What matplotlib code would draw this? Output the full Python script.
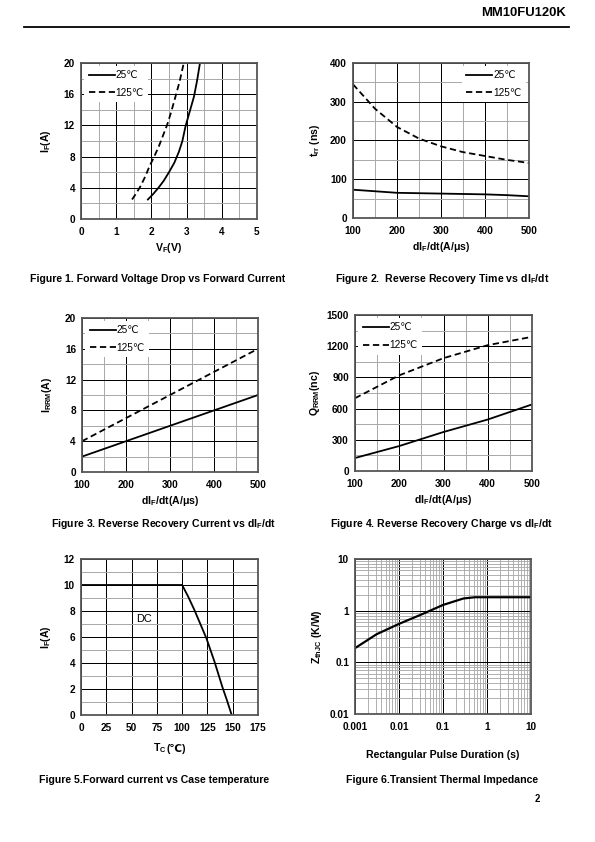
import matplotlib
matplotlib.use("Agg")
import matplotlib.pyplot as plt
from matplotlib.ticker import MultipleLocator, LogLocator, FixedLocator, NullFormatter
from matplotlib.offsetbox import TextArea, HPacker, AnchoredOffsetbox
import numpy as np

plt.rcParams['font.family'] = ['Liberation Sans', 'DejaVu Sans']
plt.rcParams['mathtext.fontset'] = 'custom'
plt.rcParams['mathtext.rm'] = 'Liberation Sans'
plt.rcParams['mathtext.bf'] = 'Liberation Sans:bold'
plt.rcParams['mathtext.it'] = 'Liberation Sans:italic'

# ---------------- data ----------------
# Figure 1: forward voltage drop vs forward current
f1_vf_25 = [1.90, 2.05, 2.20, 2.35, 2.50, 2.65, 2.78, 2.88, 2.97, 3.09, 3.21, 3.30, 3.38]
f1_if_25 = [2.5, 3.2, 4.0, 4.9, 6.0, 7.2, 8.6, 10.0, 11.9, 13.8, 15.7, 17.8, 20.0]
f1_vf_125 = [1.45, 1.57, 1.69, 1.82, 1.95, 2.08, 2.21, 2.33, 2.45, 2.56, 2.66, 2.80, 2.92]
f1_if_125 = [2.5, 3.3, 4.2, 5.4, 6.8, 8.0, 9.3, 10.7, 12.1, 13.7, 15.3, 17.6, 20.0]

# Figure 2: reverse recovery time vs dIF/dt
f2_didt = [100, 150, 200, 250, 300, 350, 400, 450, 500]
f2_trr_25 = [73, 69, 65, 64, 63, 62, 61, 59, 56]
f2_trr_125 = [345, 282, 235, 205, 185, 170, 160, 150, 142]

# Figure 3: reverse recovery current vs dIF/dt
f3_didt = [100, 200, 300, 400, 500]
f3_irrm_25 = [2, 4, 6, 8, 10]
f3_irrm_125 = [4, 7, 10, 13, 16]

# Figure 4: reverse recovery charge vs dIF/dt
f4_didt = [100, 200, 300, 400, 500]
f4_qrr_25 = [125, 240, 375, 495, 640]
f4_qrr_125 = [700, 920, 1085, 1210, 1290]

# Figure 5: forward current vs case temperature
f5_tc = [0, 100, 106, 112, 118, 124, 128, 132, 136, 140, 144, 149]
f5_if = [10, 10, 9.1, 8.1, 7.0, 5.9, 5.0, 4.1, 3.1, 2.1, 1.2, 0]

# Figure 6: transient thermal impedance
f6_t = [0.001, 0.0031, 0.01, 0.033, 0.1, 0.29, 0.53, 1, 10]
f6_z = [0.188, 0.35, 0.555, 0.85, 1.29, 1.72, 1.82, 1.82, 1.82]

legend_labels = ['25℃', '125℃']

captions = [
    "Figure 1. Forward Voltage Drop vs Forward Current",
    "Figure 2.  Reverse Recovery Time vs dI$_\\mathbf{F}$/dt",
    "Figure 3. Reverse Recovery Current vs dI$_\\mathbf{F}$/dt",
    "Figure 4. Reverse Recovery Charge vs dI$_\\mathbf{F}$/dt",
    "Figure 5.Forward current vs Case temperature",
    "Figure 6.Transient Thermal Impedance",
]

W, H = 595, 842
fig = plt.figure(figsize=(W / 72, H / 72), dpi=72)

def add_ax(l, t, r, b):
    return fig.add_axes([l / W, 1 - b / H, (r - l) / W, (b - t) / H])

DASH = (3.5, 2.0)
SPINE = '#555555'
MINC = '#aaaaaa'
TICK_FS = 10
LAB_FS = 10.5
CAP_FS = 10.5

def finish(ax):
    ax.set_axisbelow(True)
    for s in ax.spines.values():
        s.set_color(SPINE)
        s.set_linewidth(1.8)
    ax.tick_params(which='both', length=0, labelsize=TICK_FS)
    ax.tick_params(axis='x', pad=8)
    ax.tick_params(axis='y', pad=6)
    for lab in ax.get_xticklabels() + ax.get_yticklabels():
        lab.set_fontweight('bold')

def style(ax, xmaj, xmin, ymaj, ymin):
    ax.xaxis.set_major_locator(MultipleLocator(xmaj))
    ax.xaxis.set_minor_locator(MultipleLocator(xmin))
    ax.yaxis.set_major_locator(MultipleLocator(ymaj))
    ax.yaxis.set_minor_locator(MultipleLocator(ymin))
    ax.grid(which='major', color='black', lw=1.0)
    ax.grid(which='minor', color=MINC, lw=1.0)
    finish(ax)

def legend(ax, loc):
    lg = ax.legend(legend_labels, loc=loc, frameon=True, fancybox=False,
                   facecolor='white', edgecolor='none', framealpha=1,
                   fontsize=10, handlelength=2.6, handletextpad=0.1,
                   borderaxespad=0.3, labelspacing=0.75, borderpad=0.45)
    lg.get_frame().set_linewidth(0)
    return lg

LW = 1.8

# ---- Figure 1 ----
ax1 = add_ax(81, 63, 257, 219)
ax1.plot(f1_vf_25, f1_if_25, color='black', lw=LW)
ax1.plot(f1_vf_125, f1_if_125, color='black', lw=LW, dashes=DASH)
ax1.set_xlim(0, 5); ax1.set_ylim(0, 20)
style(ax1, 1, 0.5, 4, 2)
legend(ax1, 'upper left')
ax1.set_xlabel(r'$\mathbf{V_F(V)}$', fontsize=LAB_FS, labelpad=4)
ax1.set_ylabel(r'$\mathbf{I_F(A)}$', fontsize=LAB_FS, labelpad=11)

# ---- Figure 2 ----
ax2 = add_ax(353, 63, 529, 218)
ax2.plot(f2_didt, f2_trr_25, color='black', lw=LW)
ax2.plot(f2_didt, f2_trr_125, color='black', lw=LW, dashes=DASH)
ax2.set_xlim(100, 500); ax2.set_ylim(0, 400)
style(ax2, 100, 50, 100, 50)
legend(ax2, 'upper right')
ax2.set_xlabel(r'$\mathbf{dI_F/dt(A/μs)}$', fontsize=LAB_FS, labelpad=4)
ax2.set_ylabel(r'$\mathbf{t_{rr}}$ (ns)', fontsize=LAB_FS, fontweight='bold', labelpad=8)

# ---- Figure 3 ----
ax3 = add_ax(82, 318, 258, 472)
ax3.plot(f3_didt, f3_irrm_25, color='black', lw=LW)
ax3.plot(f3_didt, f3_irrm_125, color='black', lw=LW, dashes=DASH)
ax3.set_xlim(100, 500); ax3.set_ylim(0, 20)
style(ax3, 100, 50, 4, 2)
legend(ax3, 'upper left')
ax3.set_xlabel(r'$\mathbf{dI_F/dt(A/μs)}$', fontsize=LAB_FS, labelpad=4)
ax3.set_ylabel(r'$\mathbf{I_{RRM}(A)}$', fontsize=LAB_FS, labelpad=11)

# ---- Figure 4 ----
ax4 = add_ax(355, 315, 532, 471)
ax4.plot(f4_didt, f4_qrr_25, color='black', lw=LW)
ax4.plot(f4_didt, f4_qrr_125, color='black', lw=LW, dashes=DASH)
ax4.set_xlim(100, 500); ax4.set_ylim(0, 1500)
style(ax4, 100, 50, 300, 150)
legend(ax4, 'upper left')
ax4.set_xlabel(r'$\mathbf{dI_F/dt(A/μs)}$', fontsize=LAB_FS, labelpad=4)
ax4.set_ylabel(r'$\mathbf{Q_{RRM}(nc)}$', fontsize=LAB_FS, labelpad=5)

# ---- Figure 5 ----
ax5 = add_ax(81, 559, 258, 715)
ax5.plot(f5_tc, f5_if, color='black', lw=LW)
ax5.set_xlim(0, 175); ax5.set_ylim(0, 12)
style(ax5, 25, 25, 2, 1)
ax5.text(62, 7.4, 'DC', fontsize=11, ha='center', va='center')
ax5.set_ylabel(r'$\mathbf{I_F(A)}$', fontsize=LAB_FS, labelpad=11)
tc_box = HPacker(children=[
    TextArea(r'$\mathbf{T_C}$', textprops=dict(fontsize=LAB_FS)),
    TextArea('(℃)', textprops=dict(fontsize=LAB_FS, fontweight='bold')),
], align='baseline', pad=0, sep=0)
ab = AnchoredOffsetbox(loc='center', child=tc_box, frameon=False,
                       bbox_to_anchor=(0.5, -0.215), bbox_transform=ax5.transAxes,
                       borderpad=0, pad=0)
ax5.add_artist(ab)

# ---- Figure 6 ----
ax6 = add_ax(355, 559, 531, 714)
ax6.plot(f6_t, f6_z, color='black', lw=2.2)
ax6.set_xscale('log'); ax6.set_yscale('log')
ax6.set_xlim(0.001, 10); ax6.set_ylim(0.01, 10)
ax6.xaxis.set_major_locator(FixedLocator([0.001, 0.01, 0.1, 1, 10]))
ax6.yaxis.set_major_locator(FixedLocator([0.01, 0.1, 1, 10]))
ax6.xaxis.set_minor_locator(LogLocator(base=10, subs=np.arange(2, 10), numticks=20))
ax6.yaxis.set_minor_locator(LogLocator(base=10, subs=np.arange(2, 10), numticks=20))
ax6.xaxis.set_minor_formatter(NullFormatter())
ax6.yaxis.set_minor_formatter(NullFormatter())
ax6.set_xticklabels(['0.001', '0.01', '0.1', '1', '10'])
ax6.set_yticklabels(['0.01', '0.1', '1', '10'])
ax6.grid(which='major', color='black', lw=1.0)
ax6.grid(which='minor', color=MINC, lw=0.9)
finish(ax6)
ax6.set_xlabel('Rectangular Pulse Duration (s)', fontsize=LAB_FS, fontweight='bold', labelpad=18)
ax6.set_ylabel(r'$\mathbf{Z_{thJC}}$ (K/W)', fontsize=LAB_FS, fontweight='bold', labelpad=5)

# ---- captions ----
cap_pos = [(158, 279), (442, 279), (163, 524), (442, 524), (154, 780), (442, 780)]
for (x, y), c in zip(cap_pos, captions):
    fig.text(x / W, 1 - y / H, c, ha='center', va='center', fontsize=CAP_FS, fontweight='bold')

# ---- header ----
fig.text(566 / W, 1 - 13 / H, 'MM10FU120K', ha='right', va='center', fontsize=13, fontweight='bold')
fig.add_artist(plt.Line2D([24 / W, 569 / W], [1 - 27 / H, 1 - 27 / H], color='black', lw=1.8))
fig.text(540 / W, 1 - 799 / H, '2', ha='right', va='center', fontsize=9.5, fontweight='bold')

fig.savefig('out.png', dpi=72, facecolor='white')
